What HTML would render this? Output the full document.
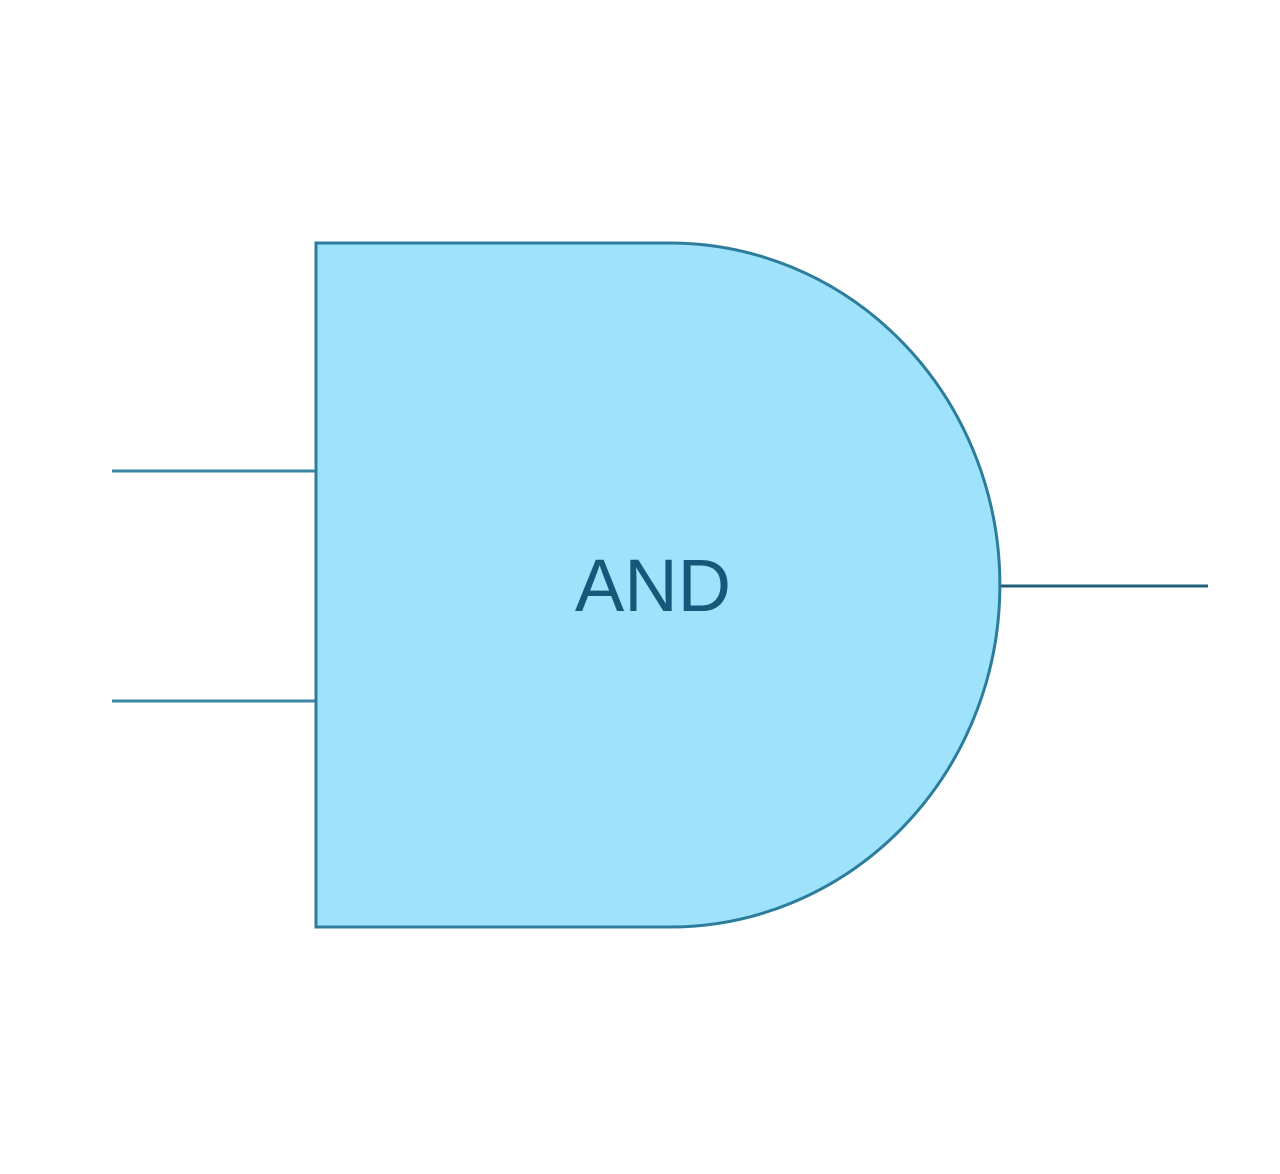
<!DOCTYPE html>
<html><head><style>html,body{margin:0;padding:0;background:#fff;}svg{display:block}</style></head>
<body>
<svg width="1280" height="1174" viewBox="0 0 1280 1174" xmlns="http://www.w3.org/2000/svg">
<line x1="112" y1="471" x2="316" y2="471" stroke="#3a86a3" stroke-width="3"/>
<line x1="112" y1="701" x2="316" y2="701" stroke="#3a86a3" stroke-width="3"/>
<line x1="1000" y1="586" x2="1208" y2="586" stroke="#1f5f78" stroke-width="3"/>
<path d="M316 243 L670 243 A330 342 0 0 1 670 927 L316 927 Z" fill="#9ee3fb" stroke="#2c7d9c" stroke-width="3"/>
<text x="653" y="611" text-anchor="middle" font-family="'Liberation Sans', sans-serif" font-size="74" fill="#15587a">AND</text>
</svg>
</body></html>
